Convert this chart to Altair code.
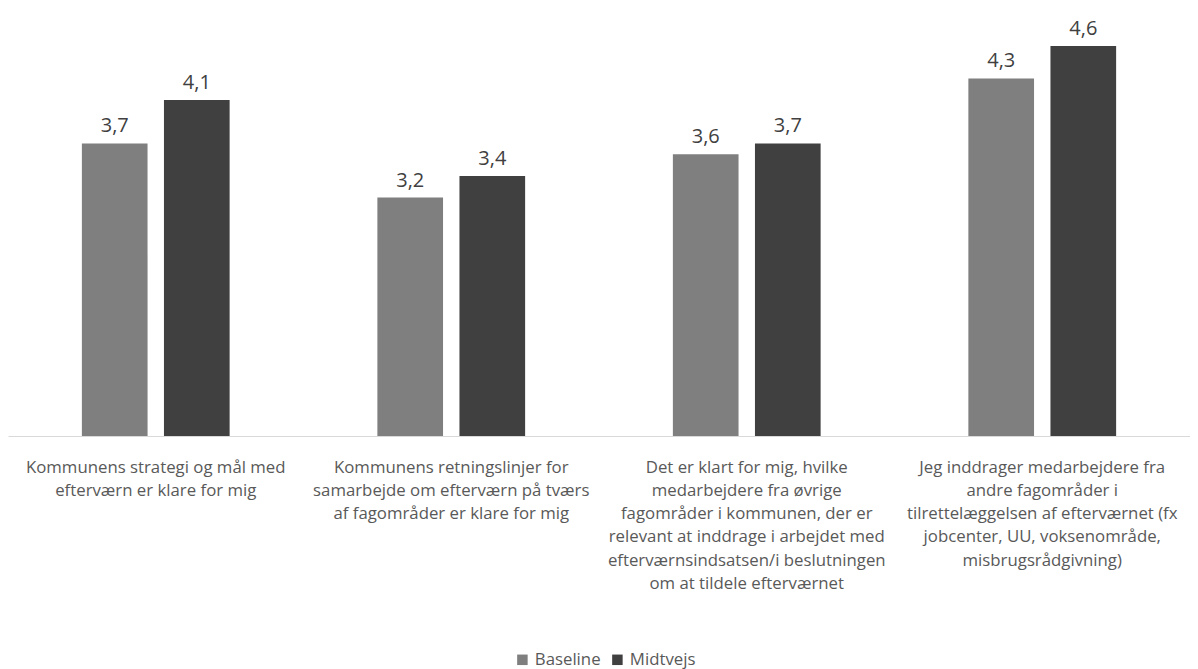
import altair as alt
import pandas as pd

categories = [
    "Kommunens strategi og mål med|efterværn er klare for mig",
    "Kommunens retningslinjer for|samarbejde om efterværn på tværs|af fagområder er klare for mig",
    "Det er klart for mig, hvilke|medarbejdere fra øvrige|fagområder i kommunen, der er|relevant at inddrage i arbejdet med|efterværnsindsatsen/i beslutningen|om at tildele efterværnet",
    "Jeg inddrager medarbejdere fra|andre fagområder i|tilrettelæggelsen af efterværnet (fx|jobcenter, UU, voksenområde,|misbrugsrådgivning)",
]
series = ["Baseline", "Midtvejs"]
baseline = [3.7, 3.2, 3.6, 4.3]
midtvejs = [4.1, 3.4, 3.7, 4.6]
colors = ["#7f7f7f", "#404040"]

rows = []
for i, c in enumerate(categories):
    rows.append({"cat": c, "serie": series[0], "value": baseline[i], "o": 0})
    rows.append({"cat": c, "serie": series[1], "value": midtvejs[i], "o": 1})
df = pd.DataFrame(rows)

FONT = "Open Sans"

x = alt.X(
    "cat:N",
    sort=categories,
    title=None,
    scale=alt.Scale(paddingInner=0.5, paddingOuter=0.25),
    axis=alt.Axis(
        labelExpr="split(datum.label, '|')",
        labelAngle=0,
        labelLimit=0,
        labelFont=FONT,
        labelFontSize=16.8,
        labelColor="#595959",
        labelLineHeight=23.3,
        labelPadding=23,
        ticks=False,
        domainColor="#d9d9d9",
        domainWidth=1,
        grid=False,
    ),
)
y = alt.Y(
    "value:Q",
    scale=alt.Scale(domain=[1, 4.95], nice=False, zero=False),
    axis=None,
)
xo = alt.XOffset("serie:N", sort=series, scale=alt.Scale(paddingInner=0.2, paddingOuter=0))

base = alt.Chart(df)

bars = base.mark_bar().encode(
    x=x,
    xOffset=xo,
    y=y,
    y2=alt.datum(1),
    color=alt.Color(
        "serie:N",
        sort=series,
        scale=alt.Scale(domain=series, range=colors),
        legend=alt.Legend(
            title=None,
            orient="none",
            legendX=506,
            legendY=643,
            direction="horizontal",
            symbolType="square",
            symbolSize=110,
            symbolStrokeWidth=0,
            labelFont=FONT,
            labelFontSize=16.8,
            labelColor="#595959",
            columnPadding=8,
            labelOffset=4,
            padding=0,
        ),
    ),
)

labels = base.transform_calculate(
    lab="replace(format(datum.value, '.1f'), '.', ',')"
).mark_text(
    baseline="bottom", dy=-7, font=FONT, fontSize=20, color="#404040"
).encode(
    x=x,
    xOffset=xo,
    y=y,
    text="lab:N",
)

chart = (
    alt.layer(bars, labels)
    .properties(width=1182, height=428, padding=0)
    .configure_view(stroke=None)
)

chart.save("out.html", embed_options={"renderer": "svg", "actions": False})
